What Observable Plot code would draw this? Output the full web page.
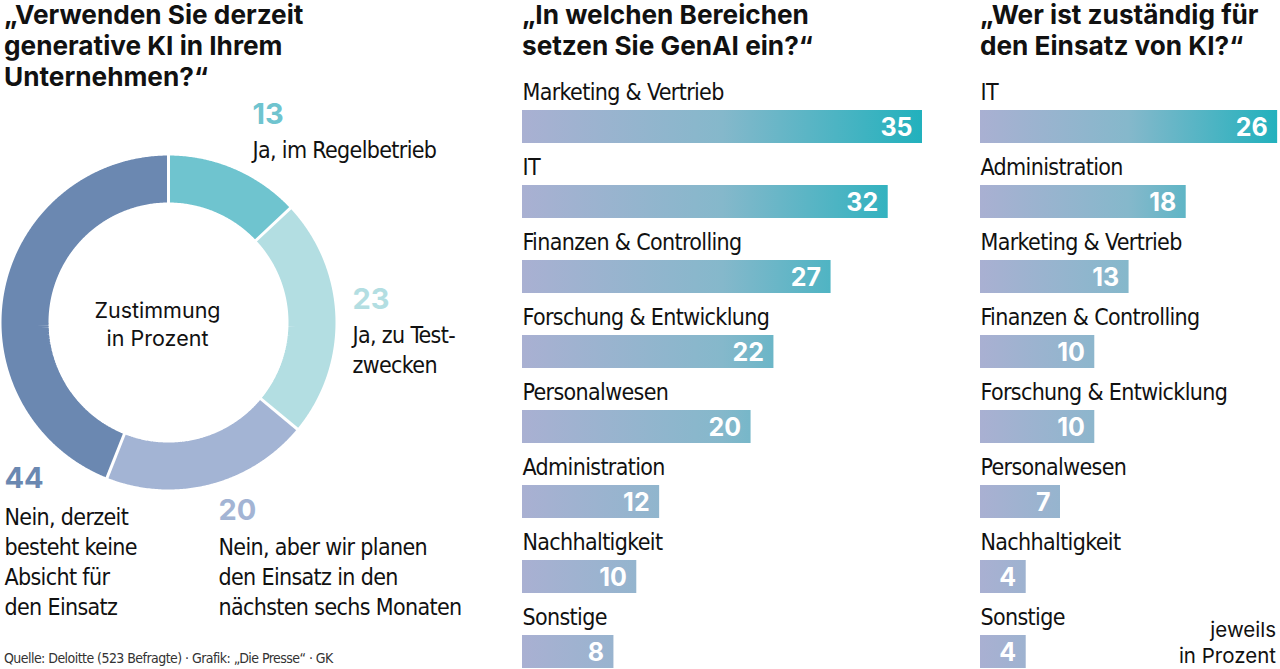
<!DOCTYPE html>
<html><head><meta charset="utf-8">
<script src="https://cdn.jsdelivr.net/npm/d3@7"></script>
<script src="https://cdn.jsdelivr.net/npm/@observablehq/plot@0.6"></script>
<style>
html,body{margin:0;padding:0;background:#fff;}
#wrap{position:relative;width:1280px;height:669px;overflow:hidden;background:#fff;}
#wrap svg{position:absolute;top:0;overflow:visible;}
#wrap svg g[font-family*="Condensed"]{letter-spacing:-0.65px;}
.title{position:absolute;top:0;font-family:Inter,"Noto Sans",sans-serif;font-weight:700;font-size:26.2px;line-height:31px;color:#111;white-space:pre;}
.note{position:absolute;font-family:"Liberation Sans Narrow","DejaVu Sans Condensed",sans-serif;font-stretch:condensed;color:#333;white-space:pre;}
</style></head>
<body><div id="wrap"></div>
<script>
// ---------- data ----------
const titleUsage = "„Verwenden Sie derzeit\ngenerative KI in Ihrem\nUnternehmen?“";
const titleAreas = "„In welchen Bereichen\nsetzen Sie GenAI ein?“";
const titleResp  = "„Wer ist zuständig für\nden Einsatz von KI?“";

const usageLabels = ["Ja, im Regelbetrieb", "Ja, zu Test-\nzwecken", "Nein, aber wir planen\nden Einsatz in den\nnächsten sechs Monaten", "Nein, derzeit\nbesteht keine\nAbsicht für\nden Einsatz"];
const usageValues = [13, 23, 20, 44];
const donutCenterText = "Zustimmung\nin Prozent";

const areaCategories = ["Marketing & Vertrieb", "IT", "Finanzen & Controlling", "Forschung & Entwicklung", "Personalwesen", "Administration", "Nachhaltigkeit", "Sonstige"];
const areaValues = [35, 32, 27, 22, 20, 12, 10, 8];

const respCategories = ["IT", "Administration", "Marketing & Vertrieb", "Finanzen & Controlling", "Forschung & Entwicklung", "Personalwesen", "Nachhaltigkeit", "Sonstige"];
const respValues = [26, 18, 13, 10, 10, 7, 4, 4];

const unitNote = "jeweils\nin Prozent";
const sourceNote = "Quelle: Deloitte (523 Befragte) · Grafik: „Die Presse“ · GK";

// ---------- styles / layout ----------
const usageColors = ["#6fc4cf", "#b3dee2", "#a3b4d4", "#6b88b1"];
const condensed = "'Liberation Sans Narrow','DejaVu Sans Condensed',sans-serif";
const boldFont = "Inter,'Noto Sans',sans-serif";
const plainFont = "Inter,'Noto Sans',sans-serif";
const wrap = document.getElementById("wrap");

function addDiv(cls, text, style) {
  const d = document.createElement("div");
  d.className = cls; d.textContent = text;
  Object.assign(d.style, style);
  wrap.appendChild(d);
}
addDiv("title", titleUsage, {left: "4px", top: "-1px"});
addDiv("title", titleAreas, {left: "522px", top: "-1px"});
addDiv("title", titleResp, {left: "980px", top: "-1px"});

// ---------- donut ----------
const cx = 168, cy = 322, rOuter = 167, rInner = 120;
const rMid = (rOuter + rInner) / 2;
const total = d3.sum(usageValues);
const cum = d3.cumsum(usageValues);
const segs = usageValues.map((v, i) => ({i, a0: (cum[i] - v) / total * 2 * Math.PI, a1: cum[i] / total * 2 * Math.PI}));
const arcPts = segs.flatMap(s => {
  const n = Math.max(2, Math.ceil((s.a1 - s.a0) / 0.01));
  return d3.range(n + 1).map(k => {
    const a = s.a0 + (s.a1 - s.a0) * k / n;
    return {i: s.i, px: cx + rMid * Math.sin(a), py: cy - rMid * Math.cos(a)};
  });
});
const seps = segs.map(s => ({
  x1: cx + (rInner - 2) * Math.sin(s.a0), y1: cy - (rInner - 2) * Math.cos(s.a0),
  x2: cx + (rOuter + 2) * Math.sin(s.a0), y2: cy - (rOuter + 2) * Math.cos(s.a0)
}));
// label anchors (layout): value baseline and label last-baseline
const labelLayout = [
  {x: 252, vy: 123, ly: 157},
  {x: 352, vy: 308, ly: 372},
  {x: 218, vy: 519, ly: 614},
  {x: 4,   vy: 487, ly: 614}
];
const usageData = usageValues.map((v, i) => ({value: v, label: usageLabels[i], color: usageColors[i], ...labelLayout[i]}));

const donut = Plot.plot({
  width: 480, height: 669, margin: 0,
  x: {domain: [0, 480], range: [0, 480], axis: null},
  y: {domain: [0, 669], range: [0, 669], axis: null},
  marks: [
    Plot.line(arcPts, {x: "px", y: "py", z: "i", stroke: d => usageColors[d.i], strokeWidth: rOuter - rInner, strokeLinecap: "butt", strokeLinejoin: "miter"}),
    Plot.link(seps, {x1: "x1", y1: "y1", x2: "x2", y2: "y2", stroke: "white", strokeWidth: 3}),
    Plot.text([donutCenterText], {x: () => 157, y: () => 345, text: d => d, lineAnchor: "bottom", lineHeight: 1.28, fontFamily: plainFont, fontSize: 21.5, fill: "#111", textAnchor: "middle"}),
    Plot.text(usageData, {x: "x", y: "vy", text: d => String(d.value), lineAnchor: "bottom", textAnchor: "start", fill: "color", fontFamily: boldFont, fontWeight: 700, fontSize: 29}),
    Plot.text(usageData, {x: "x", y: "ly", text: "label", lineAnchor: "bottom", lineHeight: 1.3, textAnchor: "start", fill: "#111", fontFamily: condensed, fontSize: 23})
  ]
});
donut.style.left = "0px";
wrap.appendChild(donut);

// ---------- bars ----------
const pxPerUnit = 400 / 35;
const bandStep = 75.5, bandPad = 0.563;
function barPanel(cats, vals, left, id) {
  const max = d3.max(vals);
  const data = cats.map((c, i) => ({cat: c, value: vals[i]}));
  const w = Math.ceil(max * pxPerUnit) + 4;
  const plot = Plot.plot({
    width: w, height: 669, margin: 0,
    x: {domain: [0, max], range: [0, max * pxPerUnit], axis: null},
    y: {domain: cats, range: [110, 110 + bandStep * (cats.length - bandPad)], paddingInner: bandPad, paddingOuter: 0, align: 0, axis: null},
    marks: [
      Plot.barX(data, {x: "value", y: "cat", fill: `url(#${id})`}),
      Plot.text(data, {x: 0, y: "cat", text: "cat", textAnchor: "start", lineAnchor: "bottom", dy: -27.5, fill: "#111", fontFamily: condensed, fontSize: 23}),
      Plot.text(data, {x: "value", y: "cat", text: d => String(d.value), textAnchor: "end", lineAnchor: "bottom", dx: -10, dy: 9, fill: "white", fontFamily: boldFont, fontWeight: 700, fontSize: 25})
    ]
  });
  const svg = d3.select(plot);
  const g = svg.insert("defs", ":first-child").append("linearGradient")
    .attr("id", id).attr("gradientUnits", "userSpaceOnUse")
    .attr("x1", 0).attr("x2", max * pxPerUnit).attr("y1", 0).attr("y2", 0);
  g.append("stop").attr("offset", "0%").attr("stop-color", "#a9b0d2");
  g.append("stop").attr("offset", "50%").attr("stop-color", "#85b8cb");
  g.append("stop").attr("offset", "100%").attr("stop-color", "#22b1bd");
  plot.style.left = left + "px";
  wrap.appendChild(plot);
}
barPanel(areaCategories, areaValues, 522, "gradAreas");
barPanel(respCategories, respValues, 980, "gradResp");

// ---------- notes ----------
addDiv("note", sourceNote, {left: "4px", top: "650px", fontSize: "14px", lineHeight: "16px", letterSpacing: "-0.55px"});
addDiv("note", unitNote, {right: "4px", top: "617px", fontSize: "20.5px", lineHeight: "26px", textAlign: "right", fontFamily: plainFont, fontStretch: "normal", color: "#111"});
</script>
</body></html>
